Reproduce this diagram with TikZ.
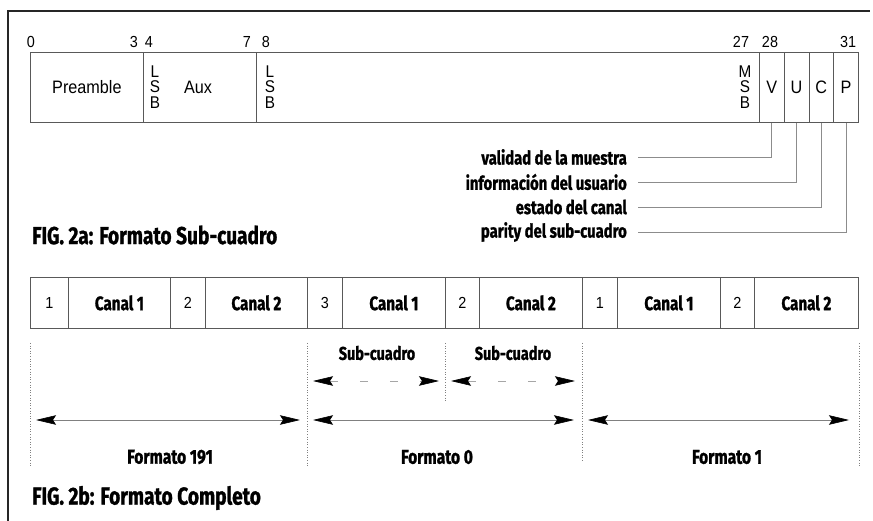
\documentclass[tikz,border=0pt]{standalone}
\usepackage{fontspec}
\setmainfont{Liberation Sans}[FakeStretch=0.9]
\newfontfamily\labfont{Fira Sans}[FakeStretch=0.78, BoldFeatures={FakeBold=1.2}]
\usetikzlibrary{arrows.meta, positioning}

\tikzset{
  topcell/.style={draw=black!65, line width=0.8pt, inner sep=0pt, minimum height=70pt, anchor=north west, font=\fontsize{18}{20}\selectfont},
  rowcell/.style={draw=black!65, line width=0.8pt, inner sep=0pt, minimum height=51pt, anchor=north west, font=\fontsize{16}{18}\selectfont},
  bitno/.style={inner sep=0pt, font=\fontsize{16}{18}\selectfont},
  bitstack/.style={inner sep=0pt, align=center, font=\fontsize{17}{15.5}\selectfont},
  legend/.style={inner sep=0pt, anchor=east, font=\labfont\bfseries\fontsize{19}{21}\selectfont},
  boldlab/.style={inner sep=0pt, font=\labfont\bfseries\fontsize{18.5}{20}\selectfont},
  caption/.style={inner sep=0pt, anchor=west, font=\labfont\bfseries\fontsize{24.5}{26}\selectfont},
  leader/.style={draw=black!45, line width=0.6pt},
  guide/.style={draw=black!50, line width=0.6pt, dotted},
  bigtip/.tip={Stealth[length=20pt, width=9.5pt, inset=3pt, color=black]},
  span/.style={bigtip-bigtip, draw=black!50, line width=0.6pt},
  halfspan/.style={span, draw=black!35, dash pattern=on 8pt off 22pt}
}

\begin{document}
\begin{tikzpicture}[x=1pt, y=-1pt]
    \useasboundingbox (0,0) rectangle (873,521);
    \draw[line width=2pt, black!85] (8,521) -- (8,11) -- (870,11);

    \foreach \x/\t in {31/0, 134/3, 149/4, 247/7, 266/8, 741/27, 770/28, 848/31}
        \node[bitno] (n\t) at (\x,42) {\t};

    \node[topcell, minimum width=113pt] (pre) at (30,52) {Preamble};
    \node[topcell, minimum width=113pt] (aux) at (143,52) {};
    \node[topcell, minimum width=503pt] (aud) at (256,52) {};
    \foreach \n [count=\i from 0] in {V,U,C,P}
        \node[topcell, minimum width=24.75pt] (\n) at ({759+24.75*\i},52) {\n};
    \node[bitstack] (lsba) at (155,87) {L\\S\\B};
    \node[topcell, draw=none, anchor=center, minimum height=0pt] (auxt) at (198,87) {Aux};
    \node[bitstack] (lsbb) at (270,87) {L\\S\\B};
    \node[bitstack] (msb) at (745,87) {M\\S\\B};

    \foreach \t/\y/\c in {validad de la muestra/157/V, información del usuario/182/U, estado del canal/207/C, parity del sub-cuadro/232/P} {
        \node[legend] (l\c) at (627,\y) {\t};
        \draw[leader] ([xshift=11pt]l\c.east) -| (\c.south);
    }

    \node[caption] (fig2a) at (32,235) {FIG. 2a: Formato Sub-cuadro};

    \foreach \p/\q/\e/\k/\c [count=\i] in {30/68/170/1/1, 170/205/307/2/2, 307/342/445/3/1, 445/479/582/2/2, 582/617/720/1/1, 720/754/858/2/2} {
        \node[rowcell, minimum width={(\q-\p)*1pt}] (id\i) at (\p,277) {\k};
        \node[rowcell, minimum width={(\e-\q)*1pt}, font=\labfont\bfseries\fontsize{19.5}{21}\selectfont] (ch\i) at (\q,277) {Canal \c};
    }

    \draw[guide] (id1.south west |- 0,343) -- (id1.south west |- 0,467);
    \draw[guide] (id3.south west |- 0,343) -- (id3.south west |- 0,467);
    \draw[guide] (id4.south west |- 0,343) -- (id4.south west |- 0,402);
    \draw[guide] (id5.south west |- 0,343) -- (id5.south west |- 0,462);
    \draw[guide] (ch6.south east |- 0,343) -- (ch6.south east |- 0,466);

    \node[boldlab] (sub1) at (377,353) {Sub-cuadro};
    \node[boldlab] (sub2) at (513,353) {Sub-cuadro};
    \foreach \a/\b [count=\i] in {313/439, 451/575} {
        \coordinate (s\i a) at (\a,381);
        \coordinate (s\i b) at (\b,381);
        \draw[halfspan] (s\i a) -- (s\i b);
    }

    \foreach \a/\b [count=\i] in {36/300, 313/574, 588/849} {
        \coordinate (f\i a) at (\a,420);
        \coordinate (f\i b) at (\b,420);
        \draw[span] (f\i a) -- (f\i b);
    }
    \node[boldlab, font=\labfont\bfseries\fontsize{20}{22}\selectfont] (fmt191) at (170,457) {Formato 191};
    \node[boldlab, font=\labfont\bfseries\fontsize{20}{22}\selectfont] (fmt0) at (437,457) {Formato 0};
    \node[boldlab, font=\labfont\bfseries\fontsize{20}{22}\selectfont] (fmt1) at (727,457) {Formato 1};

    \node[caption] (fig2b) at (32,498) {FIG. 2b: Formato Completo};
\end{tikzpicture}
\end{document}
